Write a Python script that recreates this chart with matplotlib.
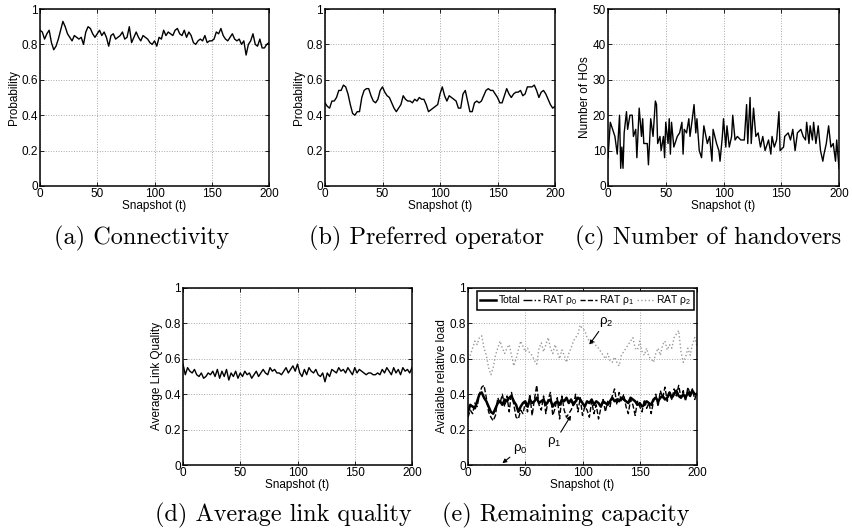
import numpy as np
import matplotlib
matplotlib.use("Agg")
import matplotlib.pyplot as plt

plt.rcParams['font.family'] = ['Liberation Sans', 'DejaVu Sans']
plt.rcParams['mathtext.fontset'] = 'custom'
plt.rcParams['mathtext.rm'] = 'Liberation Sans'
plt.rcParams['mathtext.it'] = 'Liberation Sans'

# ---- data ----
snap = np.arange(0, 201, 2)

conn = [0.88, 0.87, 0.83, 0.86, 0.88, 0.81, 0.77, 0.79, 0.83, 0.88,
        0.93, 0.90, 0.86, 0.84, 0.82, 0.85, 0.84, 0.83, 0.84, 0.80,
        0.87, 0.90, 0.89, 0.86, 0.84, 0.86, 0.88, 0.85, 0.87, 0.84,
        0.79, 0.85, 0.86, 0.83, 0.84, 0.85, 0.87, 0.83, 0.84, 0.90,
        0.81, 0.84, 0.87, 0.84, 0.82, 0.85, 0.84, 0.83, 0.81, 0.80,
        0.82, 0.79, 0.84, 0.83, 0.88, 0.85, 0.87, 0.86, 0.85, 0.88,
        0.89, 0.86, 0.85, 0.88, 0.84, 0.87, 0.85, 0.81, 0.80, 0.82,
        0.83, 0.82, 0.85, 0.81, 0.82, 0.82, 0.83, 0.87, 0.86, 0.89,
        0.85, 0.83, 0.82, 0.84, 0.86, 0.83, 0.82, 0.83, 0.80, 0.82,
        0.74, 0.80, 0.82, 0.86, 0.80, 0.79, 0.83, 0.78, 0.78, 0.80,
        0.81]

pref = [0.47, 0.45, 0.44, 0.48, 0.48, 0.50, 0.54, 0.54, 0.57, 0.56,
        0.52, 0.46, 0.41, 0.40, 0.42, 0.42, 0.50, 0.54, 0.55, 0.55,
        0.51, 0.48, 0.47, 0.49, 0.54, 0.56, 0.53, 0.51, 0.50, 0.47,
        0.44, 0.42, 0.44, 0.46, 0.51, 0.49, 0.48, 0.48, 0.47, 0.49,
        0.48, 0.50, 0.49, 0.49, 0.46, 0.42, 0.43, 0.44, 0.45, 0.46,
        0.52, 0.56, 0.51, 0.48, 0.51, 0.50, 0.49, 0.48, 0.44, 0.44,
        0.52, 0.54, 0.48, 0.42, 0.42, 0.47, 0.48, 0.47, 0.48, 0.51,
        0.54, 0.55, 0.54, 0.54, 0.52, 0.50, 0.47, 0.47, 0.51, 0.55,
        0.52, 0.50, 0.52, 0.53, 0.53, 0.54, 0.51, 0.52, 0.56, 0.56,
        0.56, 0.57, 0.54, 0.50, 0.53, 0.54, 0.52, 0.49, 0.46, 0.44,
        0.45]

ho_t = [0, 2, 4, 6, 8, 10, 11, 12, 13, 14, 16, 17, 19, 21, 22, 24, 25, 26, 27, 29,
        30, 31, 34, 35, 37, 39, 41, 42, 43, 45, 46, 48, 49, 50, 52, 53, 54, 55, 57, 60,
        62, 64, 65, 66, 68, 70, 71, 73, 74.5, 76, 77, 79, 81, 83, 86, 88, 90, 91, 94, 96,
        97, 99, 100, 102, 103, 105, 107, 108, 110, 112, 115, 118, 120, 121, 123, 124, 126, 128, 130, 132,
        134, 136, 139, 141, 142, 144, 146, 148, 149, 152, 153, 156, 158, 160, 162, 164, 167, 169, 171, 172,
        174, 175, 177, 178, 180, 182, 184, 186, 187, 189, 191, 193, 195, 197, 198, 200]
ho_n = [8, 18, 16, 14, 9, 20, 5, 11, 5, 15, 21, 16, 20, 20, 14, 16, 8, 15, 22, 14,
        19, 12, 12, 6, 19, 14, 24, 23, 12, 14, 10, 14, 8, 18, 12, 19, 9, 18, 11, 14,
        15, 18, 9, 16, 15, 19, 14, 19, 23, 15, 19, 10, 8, 17, 12, 14, 7, 16, 12, 10,
        7, 14, 19, 11, 17, 11, 14, 20, 13, 14, 13, 13, 23, 12, 25, 12, 22, 14, 15, 11,
        14, 10, 13, 9, 14, 11, 13, 21, 10, 11, 14, 15, 13, 16, 10, 15, 16, 14, 13, 18,
        12, 17, 13, 18, 12, 17, 10, 7, 9, 12, 17, 11, 12, 7, 13, 5]

link = [0.57, 0.51, 0.55, 0.53, 0.52, 0.54, 0.51, 0.50, 0.52, 0.49,
        0.50, 0.52, 0.51, 0.53, 0.50, 0.54, 0.49, 0.53, 0.50, 0.54,
        0.48, 0.52, 0.50, 0.53, 0.49, 0.52, 0.50, 0.53, 0.51, 0.52,
        0.49, 0.51, 0.53, 0.50, 0.52, 0.54, 0.52, 0.51, 0.55, 0.53,
        0.54, 0.52, 0.52, 0.51, 0.53, 0.55, 0.52, 0.54, 0.56, 0.53,
        0.57, 0.52, 0.50, 0.54, 0.51, 0.55, 0.53, 0.52, 0.54, 0.51,
        0.50, 0.52, 0.47, 0.52, 0.50, 0.54, 0.53, 0.52, 0.55, 0.53,
        0.54, 0.52, 0.55, 0.53, 0.51, 0.55, 0.52, 0.54, 0.53, 0.52,
        0.51, 0.52, 0.52, 0.51, 0.51, 0.52, 0.51, 0.54, 0.52, 0.55,
        0.53, 0.51, 0.55, 0.52, 0.54, 0.51, 0.55, 0.53, 0.54, 0.52,
        0.55]

total = [0.30, 0.34, 0.33, 0.32, 0.36, 0.40, 0.41, 0.38, 0.36, 0.33,
         0.30, 0.29, 0.32, 0.35, 0.36, 0.34, 0.37, 0.36, 0.38, 0.39,
         0.36, 0.34, 0.30, 0.33, 0.35, 0.36, 0.33, 0.37, 0.35, 0.36,
         0.38, 0.35, 0.36, 0.37, 0.34, 0.36, 0.37, 0.33, 0.35, 0.36,
         0.34, 0.37, 0.36, 0.38, 0.35, 0.37, 0.34, 0.36, 0.38, 0.37,
         0.35, 0.33, 0.36, 0.35, 0.37, 0.34, 0.36, 0.35, 0.33, 0.36,
         0.35, 0.34, 0.36, 0.38, 0.36, 0.37, 0.36, 0.38, 0.37, 0.36,
         0.35, 0.38, 0.37, 0.36, 0.34, 0.35, 0.33, 0.34, 0.36, 0.35,
         0.34, 0.37, 0.38, 0.36, 0.38, 0.39, 0.37, 0.38, 0.41, 0.38,
         0.40, 0.42, 0.39, 0.38, 0.40, 0.38, 0.41, 0.39, 0.42, 0.40,
         0.40]

rho0 = [0.0] * 101

rho1 = [0.27, 0.31, 0.29, 0.35, 0.33, 0.40, 0.44, 0.45, 0.38, 0.30,
        0.27, 0.25, 0.28, 0.38, 0.35, 0.40, 0.33, 0.39, 0.30, 0.41,
        0.34, 0.27, 0.26, 0.31, 0.29, 0.35, 0.30, 0.40, 0.28, 0.37,
        0.45, 0.34, 0.31, 0.39, 0.29, 0.37, 0.41, 0.28, 0.32, 0.38,
        0.26, 0.39, 0.31, 0.27, 0.29, 0.31, 0.34, 0.40, 0.30, 0.38,
        0.28, 0.33, 0.31, 0.27, 0.36, 0.29, 0.34, 0.26, 0.32, 0.37,
        0.30, 0.36, 0.33, 0.39, 0.43, 0.34, 0.41, 0.36, 0.40, 0.33,
        0.29, 0.37, 0.34, 0.28, 0.36, 0.33, 0.30, 0.37, 0.32, 0.35,
        0.29, 0.36, 0.40, 0.33, 0.42, 0.38, 0.44, 0.36, 0.41, 0.37,
        0.43, 0.39, 0.45, 0.38, 0.42, 0.36, 0.44, 0.40, 0.43, 0.37,
        0.41]

rho2 = [0.60, 0.62, 0.66, 0.70, 0.68, 0.72, 0.73, 0.66, 0.62, 0.55,
        0.51, 0.55, 0.62, 0.66, 0.70, 0.66, 0.63, 0.66, 0.68, 0.62,
        0.56, 0.60, 0.65, 0.70, 0.67, 0.64, 0.66, 0.63, 0.62, 0.59,
        0.57, 0.66, 0.69, 0.64, 0.68, 0.72, 0.66, 0.63, 0.68, 0.64,
        0.60, 0.65, 0.62, 0.58, 0.63, 0.66, 0.70, 0.72, 0.74, 0.79,
        0.77, 0.76, 0.72, 0.70, 0.68, 0.70, 0.67, 0.66, 0.64, 0.62,
        0.60, 0.63, 0.59, 0.58, 0.61, 0.58, 0.56, 0.62, 0.64, 0.66,
        0.68, 0.70, 0.72, 0.66, 0.65, 0.70, 0.64, 0.62, 0.66, 0.61,
        0.60, 0.58, 0.63, 0.66, 0.62, 0.68, 0.70, 0.65, 0.68, 0.66,
        0.72, 0.74, 0.76, 0.64, 0.58, 0.61, 0.66, 0.62, 0.68, 0.72,
        0.67]

xticks = [0, 50, 100, 150, 200]
prob_ticks = [0, 0.2, 0.4, 0.6, 0.8, 1]
prob_labels = ['0', '0.2', '0.4', '0.6', '0.8', '1']
ho_ticks = [0, 10, 20, 30, 40, 50]
ho_labels = ['0', '10', '20', '30', '40', '50']

captions = ['(a) Connectivity', '(b) Preferred operator', '(c) Number of handovers',
            '(d) Average link quality', '(e) Remaining capacity']

# ---- figure ----
W, H = 852, 531
fig = plt.figure(figsize=(W / 100, H / 100), dpi=100)


def make_ax(left, right, top, bottom):
    ax = fig.add_axes([left / W, 1 - bottom / H, (right - left) / W, (bottom - top) / H])
    ax.set_xlim(0, 200)
    ax.set_xticks(xticks)
    ax.tick_params(direction='in', top=True, right=True, length=3, width=0.6,
                   labelsize=8.5, pad=1.5)
    ax.grid(True, linestyle=':', color='#a8a8a8', linewidth=0.7)
    for s in ax.spines.values():
        s.set_linewidth(1.1)
    ax.set_xlabel('Snapshot (t)', fontsize=8.5, labelpad=0)
    return ax


def prob_axis(ax, label):
    ax.set_ylim(0, 1)
    ax.set_yticks(prob_ticks)
    ax.set_yticklabels(prob_labels)
    ax.set_ylabel(label, fontsize=8.5, labelpad=1)


ax_a = make_ax(40, 269, 9, 186)
ax_a.plot(snap, conn, color='black', lw=1.0)
prob_axis(ax_a, 'Probability')

ax_b = make_ax(325, 555, 9, 186)
ax_b.plot(snap, pref, color='black', lw=1.0)
prob_axis(ax_b, 'Probability')

ax_c = make_ax(608, 839, 9, 186)
ax_c.plot(ho_t, ho_n, color='black', lw=1.0)
ax_c.set_ylim(0, 50)
ax_c.set_yticks(ho_ticks)
ax_c.set_yticklabels(ho_labels)
ax_c.set_ylabel('Number of HOs', fontsize=8.5, labelpad=1)

ax_d = make_ax(183, 412, 288, 465)
ax_d.plot(snap, link, color='black', lw=1.0)
prob_axis(ax_d, 'Average Link Quality')

ax_e = make_ax(468, 697, 288, 465)
ax_e.plot(snap, total, color='black', lw=1.8, label='Total')
ax_e.plot(snap, rho0, color='black', lw=1.0, ls='-.', label='RAT ρ$_0$')
ax_e.plot(snap, rho1, color='black', lw=1.0, ls='--', label='RAT ρ$_1$')
ax_e.plot(snap, rho2, color='#9a9a9a', lw=1.0, ls=':', label='RAT ρ$_2$')
prob_axis(ax_e, 'Available relative load')
leg = ax_e.legend(loc='upper left', bbox_to_anchor=(0.04, 0.985, 0.945, 0.0), mode='expand',
                  ncol=4, fontsize=7.5, handlelength=1.6, handletextpad=0.2,
                  columnspacing=0.3, borderpad=0.25, borderaxespad=0, fancybox=False,
                  framealpha=1, edgecolor='black')
leg.get_frame().set_linewidth(1.1)

arrow = dict(arrowstyle='-|>', color='black', lw=0.8, mutation_scale=6, shrinkA=0, shrinkB=0)
ax_e.annotate('ρ$_2$', xy=(106, 0.68), xytext=(114, 0.77), fontsize=9.5,
              arrowprops=arrow, ha='left', va='bottom')
ax_e.annotate('ρ$_1$', xy=(90, 0.28), xytext=(82, 0.17), fontsize=9.5,
              arrowprops=arrow, ha='right', va='top')
ax_e.annotate('ρ$_0$', xy=(30, 0.01), xytext=(39, 0.05), fontsize=9.5,
              arrowprops=arrow, ha='left', va='bottom')

# captions in serif below each panel
cap_pos = [(142, 238), (427, 238), (708, 238), (283, 515), (566, 515)]
for text, (cx, cy) in zip(captions, cap_pos):
    fig.text(cx / W, 1 - cy / H, text, ha='center', va='center',
             family=['cmr10', 'DejaVu Serif'], fontsize=17.5)

fig.savefig('out.png', dpi=100)
